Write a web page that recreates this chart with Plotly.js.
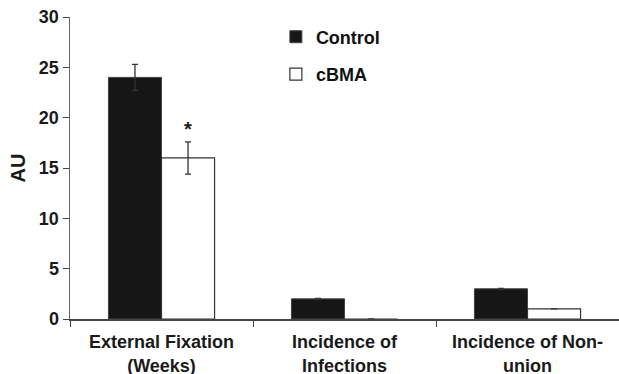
<!DOCTYPE html>
<html>
<head>
<meta charset="utf-8">
<script src="https://cdn.plot.ly/plotly-3.0.1.min.js"></script>
<style>html,body{margin:0;padding:0;background:#fff;}#chart{width:619px;height:374px;}</style>
</head>
<body>
<div id="chart"></div>
<script>
var categories = ["External Fixation<br>(Weeks)", "Incidence of<br>Infections", "Incidence of Non-<br>union"];
var controlValues = [24, 2, 3];
var controlErrors = [1.3, 0.05, 0.05];
var cbmaValues = [16, 0, 1];
var cbmaErrors = [1.6, 0, 0];
var yTicks = [0, 5, 10, 15, 20, 25, 30];

var F = "Liberation Sans, Arial, sans-serif";
var errStyle = {type: "data", visible: true, thickness: 1.3, width: 3, color: "#333"};

var traces = [
  {type: "bar", name: "Control", x: categories, y: controlValues,
   marker: {color: "#161616", line: {color: "#444", width: 1}},
   error_y: Object.assign({array: controlErrors}, errStyle), legendgroup: "a"},
  {type: "bar", name: "cBMA", x: categories, y: cbmaValues,
   marker: {color: "#ffffff", line: {color: "#333", width: 1.2}},
   error_y: Object.assign({array: cbmaErrors}, errStyle), legendgroup: "b"}
];

var layout = {
  width: 619, height: 374,
  margin: {l: 70, r: 0, t: 17, b: 55},
  paper_bgcolor: "#fff", plot_bgcolor: "#fff",
  font: {family: F, color: "#1a1a1a"},
  barmode: "group", bargap: 0.42, bargroupgap: 0,
  showlegend: true,
  legend: {x: 0.375, y: 0.995, xanchor: "left", yanchor: "top",
           font: {family: F, size: 18, weight: "bold", color: "#111"},
           bgcolor: "rgba(0,0,0,0)", tracegroupgap: 11, traceorder: "grouped"},
  xaxis: {type: "category", range: [-0.5, 2.5], showline: true, linecolor: "#444", linewidth: 1.5,
          ticks: "outside", tickson: "boundaries", ticklen: 6, tickcolor: "#444", tickwidth: 1,
          ticklabelstandoff: 6,
          tickfont: {family: F, size: 18, weight: "bold", color: "#1a1a1a"},
          showgrid: false, zeroline: false, fixedrange: true},
  yaxis: {range: [0, 30], tickvals: yTicks, ticktext: yTicks.map(String),
          showline: true, linecolor: "#666", linewidth: 1.5,
          ticks: "outside", ticklen: 6, tickcolor: "#444", tickwidth: 1,
          tickfont: {family: F, size: 18, weight: "bold", color: "#1a1a1a"},
          showgrid: false, zeroline: false,
          title: {text: "AU", font: {family: F, size: 20, weight: "bold", color: "#1a1a1a"}, standoff: 8}},
  annotations: [
    {x: categories[0], y: 18.9, xref: "x", yref: "y", xshift: 26, text: "*", showarrow: false,
     font: {family: F, size: 20, weight: "bold", color: "#1a1a1a"}}
  ]
};

Plotly.newPlot("chart", traces, layout, {displayModeBar: false, staticPlot: true});
</script>
</body>
</html>
